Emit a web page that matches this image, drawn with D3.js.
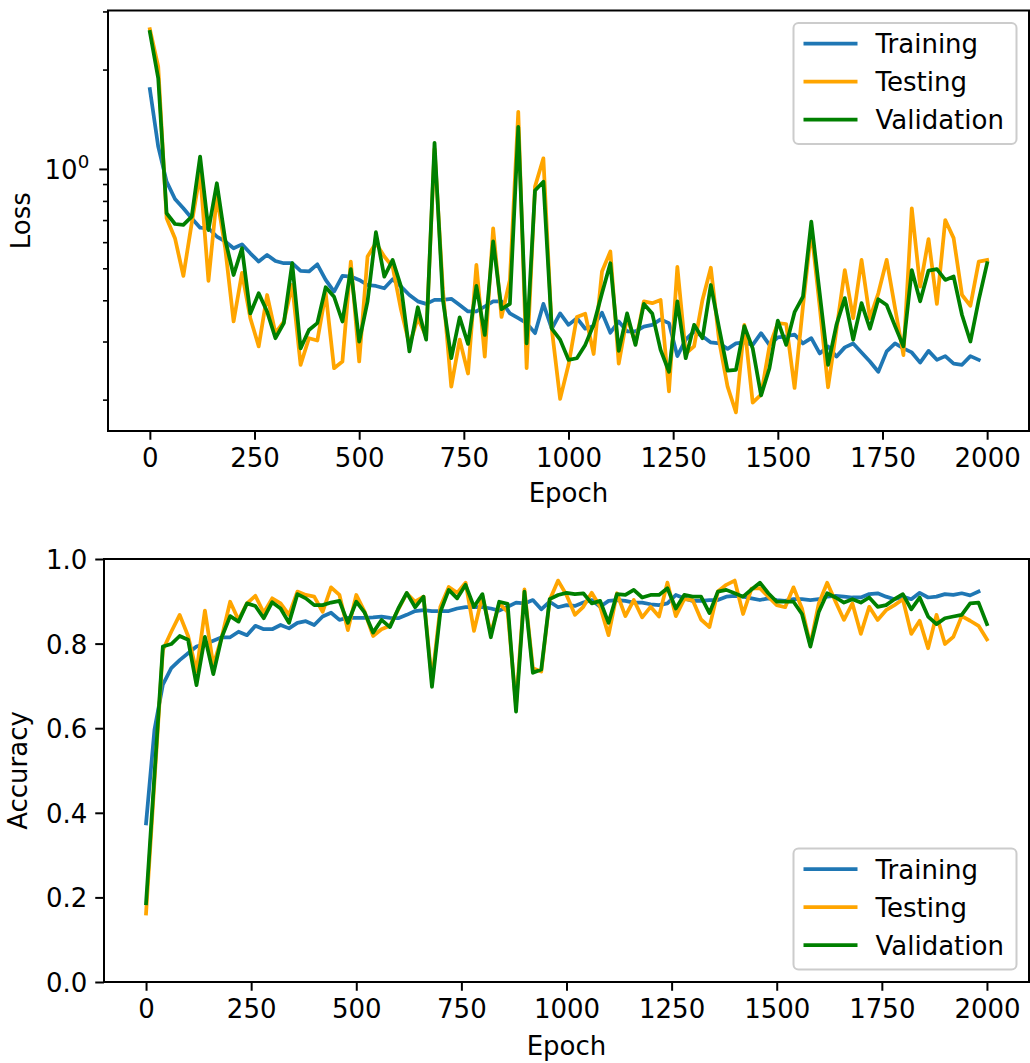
<!DOCTYPE html>
<html>
<head>
<meta charset="utf-8">
<script src="https://cdn.jsdelivr.net/npm/d3@7"></script>
<style>
  html, body { margin: 0; padding: 0; background: #fff; }
  svg { display: block; }
  text { font-family: "DejaVu Sans", sans-serif; fill: #000; }
</style>
</head>
<body>
<svg id="chart" width="1030" height="1063"></svg>
<script>
// ---- data -------------------------------------------------------------
const seriesNames = ["Training", "Testing", "Validation"];
const seriesColors = ["#1f77b4", "#ffa500", "#008000"];

// evaluation every 20 epochs; training log stops one step earlier
const epochsEval = d3.range(0, 2001, 20);
const epochsTrain = d3.range(0, 1981, 20);

const xTicks = [0, 250, 500, 750, 1000, 1250, 1500, 1750, 2000];
const lossMajorTicks = [1];
const lossMinorTicks = [0.2, 0.3, 0.4, 0.5, 0.6, 0.7, 0.8, 0.9, 2, 3];
const accTicks = [0.0, 0.2, 0.4, 0.6, 0.8, 1.0];

const lossTraining = [
  1.744, 1.168, 0.915, 0.811, 0.760, 0.709, 0.664, 0.661, 0.624, 0.603,
  0.575, 0.591, 0.555, 0.524, 0.549, 0.526, 0.518, 0.518, 0.491, 0.489,
  0.514, 0.461, 0.425, 0.474, 0.472, 0.461, 0.445, 0.442, 0.435, 0.463,
  0.440, 0.415, 0.397, 0.390, 0.401, 0.401, 0.404, 0.387, 0.370, 0.370,
  0.383, 0.397, 0.397, 0.365, 0.353, 0.341, 0.318, 0.390, 0.328, 0.365,
  0.337, 0.353, 0.328, 0.334, 0.367, 0.319, 0.345, 0.322, 0.322, 0.333,
  0.337, 0.350, 0.341, 0.271, 0.304, 0.322, 0.311, 0.298, 0.296, 0.285,
  0.296, 0.298, 0.293, 0.318, 0.293, 0.309, 0.311, 0.315, 0.296, 0.307,
  0.276, 0.290, 0.270, 0.288, 0.296, 0.278, 0.261, 0.243, 0.280, 0.296,
  0.286, 0.278, 0.259, 0.281, 0.264, 0.271, 0.257, 0.255, 0.271, 0.264
];
const lossTesting = [
  2.65, 2.04, 0.709, 0.617, 0.474, 0.685, 0.970, 0.458, 0.824, 0.575,
  0.345, 0.484, 0.353, 0.290, 0.415, 0.318, 0.345, 0.445, 0.255, 0.307,
  0.302, 0.420, 0.249, 0.261, 0.524, 0.261, 0.543, 0.596, 0.543, 0.505,
  0.374, 0.293, 0.353, 0.311, 1.15, 0.430, 0.219, 0.304, 0.240, 0.512,
  0.270, 0.661, 0.356, 0.461, 1.49, 0.249, 0.884, 1.077, 0.328, 0.201,
  0.255, 0.356, 0.364, 0.275, 0.489, 0.562, 0.257, 0.356, 0.296, 0.397,
  0.392, 0.401, 0.212, 0.505, 0.276, 0.290, 0.401, 0.502, 0.300, 0.219,
  0.183, 0.337, 0.196, 0.207, 0.290, 0.341, 0.339, 0.217, 0.383, 0.653,
  0.383, 0.218, 0.325, 0.494, 0.353, 0.530, 0.353, 0.420, 0.530, 0.379,
  0.273, 0.760, 0.440, 0.613, 0.390, 0.700, 0.617, 0.415, 0.385, 0.524,
  0.530
];
const lossValidation = [
  2.60, 1.88, 0.734, 0.681, 0.677, 0.717, 1.09, 0.653, 0.905, 0.610,
  0.477, 0.575, 0.365, 0.420, 0.370, 0.307, 0.341, 0.518, 0.286, 0.325,
  0.341, 0.438, 0.410, 0.345, 0.497, 0.300, 0.397, 0.643, 0.472, 0.530,
  0.440, 0.280, 0.381, 0.304, 1.20, 0.401, 0.267, 0.355, 0.295, 0.442,
  0.314, 0.603, 0.376, 0.390, 1.34, 0.296, 0.860, 0.915, 0.328, 0.304,
  0.264, 0.267, 0.293, 0.337, 0.420, 0.518, 0.281, 0.365, 0.293, 0.390,
  0.365, 0.283, 0.243, 0.397, 0.267, 0.337, 0.307, 0.445, 0.328, 0.245,
  0.246, 0.334, 0.286, 0.206, 0.249, 0.347, 0.293, 0.368, 0.410, 0.692,
  0.420, 0.255, 0.337, 0.406, 0.304, 0.392, 0.328, 0.403, 0.387, 0.334,
  0.290, 0.494, 0.397, 0.492, 0.497, 0.461, 0.472, 0.361, 0.300, 0.401,
  0.518
];

const accTraining = [
  0.375, 0.596, 0.703, 0.742, 0.761, 0.777, 0.793, 0.799, 0.807, 0.815,
  0.815, 0.828, 0.820, 0.842, 0.834, 0.834, 0.844, 0.836, 0.849, 0.853,
  0.844, 0.864, 0.873, 0.856, 0.861, 0.861, 0.861, 0.862, 0.864, 0.861,
  0.860, 0.868, 0.877, 0.879, 0.877, 0.877, 0.877, 0.883, 0.886, 0.886,
  0.886, 0.883, 0.878, 0.887, 0.897, 0.895, 0.903, 0.881, 0.899, 0.886,
  0.891, 0.889, 0.897, 0.903, 0.887, 0.901, 0.903, 0.901, 0.897, 0.897,
  0.893, 0.891, 0.895, 0.915, 0.907, 0.901, 0.901, 0.903, 0.903, 0.911,
  0.913, 0.911, 0.907, 0.903, 0.907, 0.903, 0.901, 0.905, 0.905, 0.903,
  0.905, 0.911, 0.913, 0.911, 0.909, 0.909, 0.917, 0.919, 0.911, 0.905,
  0.911, 0.905, 0.920, 0.909, 0.911, 0.917, 0.915, 0.919, 0.914, 0.923
];
const accTesting = [
  0.162, 0.474, 0.785, 0.828, 0.868, 0.818, 0.734, 0.878, 0.749, 0.815,
  0.899, 0.856, 0.895, 0.913, 0.873, 0.907, 0.895, 0.868, 0.923, 0.915,
  0.911, 0.875, 0.933, 0.915, 0.832, 0.915, 0.875, 0.818, 0.834, 0.842,
  0.881, 0.919, 0.899, 0.911, 0.712, 0.887, 0.934, 0.920, 0.944, 0.830,
  0.913, 0.824, 0.895, 0.875, 0.655, 0.928, 0.742, 0.734, 0.903, 0.949,
  0.915, 0.868, 0.887, 0.920, 0.887, 0.820, 0.919, 0.865, 0.903, 0.862,
  0.887, 0.864, 0.944, 0.865, 0.905, 0.903, 0.857, 0.839, 0.923, 0.939,
  0.949, 0.870, 0.930, 0.931, 0.911, 0.891, 0.886, 0.933, 0.883, 0.797,
  0.895, 0.944, 0.899, 0.856, 0.895, 0.823, 0.887, 0.856, 0.879, 0.891,
  0.905, 0.823, 0.854, 0.789, 0.868, 0.799, 0.816, 0.865, 0.854, 0.842,
  0.810
];
const accValidation = [
  0.186, 0.489, 0.793, 0.799, 0.818, 0.809, 0.702, 0.816, 0.728, 0.815,
  0.865, 0.852, 0.895, 0.889, 0.860, 0.898, 0.883, 0.849, 0.917, 0.907,
  0.891, 0.891, 0.897, 0.901, 0.849, 0.899, 0.873, 0.826, 0.856, 0.839,
  0.883, 0.920, 0.886, 0.911, 0.698, 0.875, 0.927, 0.907, 0.939, 0.887,
  0.917, 0.815, 0.899, 0.894, 0.639, 0.923, 0.731, 0.739, 0.905, 0.915,
  0.920, 0.917, 0.919, 0.895, 0.901, 0.849, 0.917, 0.915, 0.927, 0.909,
  0.915, 0.915, 0.931, 0.883, 0.915, 0.911, 0.911, 0.872, 0.923, 0.927,
  0.919, 0.911, 0.928, 0.944, 0.919, 0.899, 0.899, 0.899, 0.870, 0.793,
  0.875, 0.919, 0.909, 0.897, 0.905, 0.897, 0.909, 0.887, 0.891, 0.905,
  0.917, 0.881, 0.909, 0.864, 0.846, 0.860, 0.864, 0.868, 0.895, 0.897,
  0.846
];

// ---- layout -----------------------------------------------------------
const FONT = 26;
const LW = 3.75;
const SPINE = 2;
const svg = d3.select("#chart");

function zipSeries(xs, ys) { return ys.map((v, i) => [xs[i], v]); }

function drawPanel(cfg) {
  const { left, right, top, bottom, yScale, series, id } = cfg;
  const x = d3.scaleLinear().domain([-100, 2100]).range([left, right]);
  const y = yScale.range([bottom, top]);
  const g = svg.append("g");

  g.append("clipPath").attr("id", id).append("rect")
    .attr("x", left).attr("y", top).attr("width", right - left).attr("height", bottom - top);

  // lines
  const line = d3.line().x(d => x(d[0])).y(d => y(d[1]));
  const lines = g.append("g").attr("clip-path", `url(#${id})`);
  series.forEach((s, k) => {
    lines.append("path")
      .datum(s)
      .attr("d", line)
      .attr("fill", "none")
      .attr("stroke", seriesColors[k])
      .attr("stroke-width", LW)
      .attr("stroke-linejoin", "round")
      .attr("stroke-linecap", "square");
  });

  // frame
  g.append("rect")
    .attr("x", left).attr("y", top).attr("width", right - left).attr("height", bottom - top)
    .attr("fill", "none").attr("stroke", "#000").attr("stroke-width", SPINE);

  // x axis
  const xAxis = d3.axisBottom(x).tickValues(xTicks).tickSize(8.75).tickPadding(8).tickFormat(d3.format("d"));
  const xa = g.append("g").attr("transform", `translate(0,${bottom})`).call(xAxis);
  xa.select(".domain").remove();
  xa.selectAll(".tick line").attr("stroke", "#000").attr("stroke-width", SPINE);
  xa.selectAll(".tick text")
    .attr("font-size", FONT).attr("font-family", "DejaVu Sans").attr("fill", "#000")
    .attr("dy", null).attr("y", 8.75 + 8 + 19.5);

  g.append("text")
    .attr("x", (left + right) / 2).attr("y", cfg.xLabelY)
    .attr("text-anchor", "middle").attr("font-size", FONT)
    .text("Epoch");

  g.append("text")
    .attr("transform", `translate(${cfg.yLabelX},${(top + bottom) / 2}) rotate(-90)`)
    .attr("text-anchor", "middle").attr("font-size", FONT)
    .text(cfg.yLabel);

  cfg.yAxisDraw(g, y, left);

  // legend
  const lg = g.append("g").attr("transform", `translate(${right - 12.5 - 223},${cfg.legendTop})`);
  lg.append("rect").attr("width", 223).attr("height", 121).attr("rx", 5).attr("ry", 5)
    .attr("fill", "#fff").attr("fill-opacity", 0.8)
    .attr("stroke", "#cccccc").attr("stroke-width", 2);
  seriesNames.forEach((name, k) => {
    const cy = 20.5 + k * 38;
    lg.append("line").attr("x1", 10).attr("x2", 64).attr("y1", cy).attr("y2", cy)
      .attr("stroke", seriesColors[k]).attr("stroke-width", LW);
    lg.append("text").attr("x", 82).attr("y", cy + 9.5).attr("font-size", FONT).text(name);
  });
}

// ---- loss panel (log scale) ----
drawPanel({
  id: "clip-loss",
  left: 108, right: 1029, top: 10.5, bottom: 431,
  yScale: d3.scaleLog().domain([0.1607, 3.02]),
  series: [zipSeries(epochsTrain, lossTraining), zipSeries(epochsEval, lossTesting), zipSeries(epochsEval, lossValidation)],
  xLabelY: 502,
  yLabel: "Loss", yLabelX: 30,
  legendTop: 23,
  yAxisDraw: (g, y, left) => {
    const major = d3.axisLeft(y).tickValues(lossMajorTicks).tickSize(8.75).tickFormat("");
    const ma = g.append("g").attr("transform", `translate(${left},0)`).call(major);
    ma.select(".domain").remove();
    ma.selectAll(".tick line").attr("stroke", "#000").attr("stroke-width", SPINE);
    const minor = d3.axisLeft(y).tickValues(lossMinorTicks).tickSize(5).tickFormat("");
    const mi = g.append("g").attr("transform", `translate(${left},0)`).call(minor);
    mi.select(".domain").remove();
    mi.selectAll(".tick line").attr("stroke", "#000").attr("stroke-width", 1.6);
    lossMajorTicks.forEach(v => {
      const t = g.append("text").attr("x", left - 8.75 - 10).attr("y", y(v) + 10)
        .attr("text-anchor", "end").attr("font-size", FONT);
      t.append("tspan").text("10");
      t.append("tspan").attr("font-size", FONT * 0.7).attr("dy", -FONT * 0.42).text(String(Math.round(Math.log10(v))));
    });
  }
});

// ---- accuracy panel ----
drawPanel({
  id: "clip-acc",
  left: 104, right: 1029, top: 559, bottom: 982,
  yScale: d3.scaleLinear().domain([0, 1]),
  series: [zipSeries(epochsTrain, accTraining), zipSeries(epochsEval, accTesting), zipSeries(epochsEval, accValidation)],
  xLabelY: 1055,
  yLabel: "Accuracy", yLabelX: 27,
  legendTop: 982 - 12.5 - 121,
  yAxisDraw: (g, y, left) => {
    const ax = d3.axisLeft(y).tickValues(accTicks).tickSize(8.75).tickPadding(8).tickFormat(d3.format(".1f"));
    const a = g.append("g").attr("transform", `translate(${left},0)`).call(ax);
    a.select(".domain").remove();
    a.selectAll(".tick line").attr("stroke", "#000").attr("stroke-width", SPINE);
    a.selectAll(".tick text")
      .attr("font-size", FONT).attr("font-family", "DejaVu Sans").attr("fill", "#000")
      .attr("dy", null).attr("y", 9.5);
  }
});
</script>
</body>
</html>
